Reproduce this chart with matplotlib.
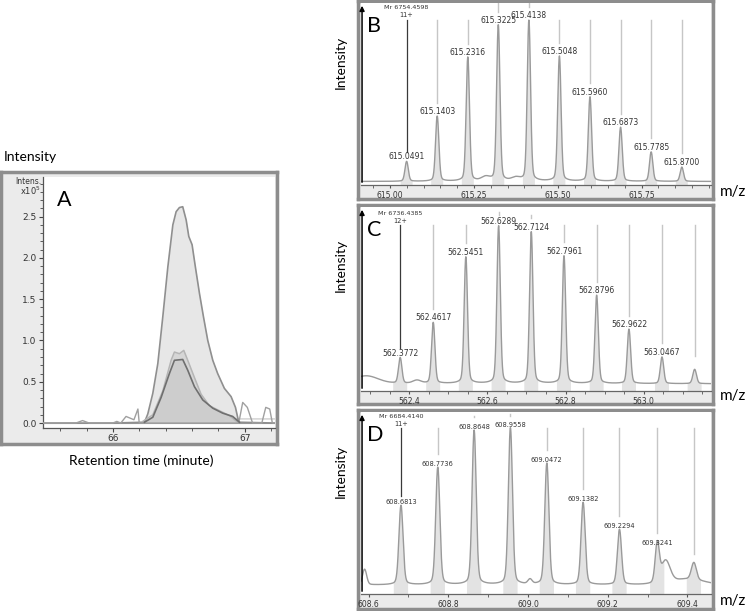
import numpy as np
import matplotlib.pyplot as plt
from matplotlib.ticker import MultipleLocator, FormatStrFormatter
from matplotlib.transforms import blended_transform_factory

# ---- Panel A: extracted ion chromatograms (x10^5) ----
big_t = [65.47, 66.0, 66.24, 66.265, 66.303, 66.341, 66.379, 66.417, 66.455, 66.48, 66.505, 66.53,
         66.556, 66.576, 66.601, 66.626, 66.657, 66.687, 66.72, 66.758, 66.795, 66.846, 66.897,
         66.93, 66.955, 67.23]
big_i = [0, 0, 0.01, 0.11, 0.36, 0.72, 1.29, 1.89, 2.40, 2.56, 2.61, 2.62, 2.46, 2.26, 2.16, 1.89,
         1.57, 1.29, 1.00, 0.76, 0.60, 0.42, 0.32, 0.19, 0.01, 0]
mid_t = [66.227, 66.303, 66.379, 66.442, 66.467, 66.505, 66.538, 66.568, 66.619, 66.669, 66.732,
         66.808, 66.884, 66.947]
mid_i = [0.02, 0.10, 0.39, 0.76, 0.86, 0.84, 0.88, 0.76, 0.55, 0.35, 0.21, 0.15, 0.09, 0.01]
dark_t = [66.24, 66.303, 66.366, 66.429, 66.467, 66.53, 66.568, 66.619, 66.682, 66.758, 66.833,
          66.909, 66.96]
dark_i = [0.01, 0.07, 0.31, 0.60, 0.76, 0.77, 0.64, 0.44, 0.28, 0.18, 0.12, 0.08, 0.01]
noise_t = [65.47, 65.72, 65.77, 65.82, 66.0, 66.03, 66.06, 66.10, 66.16, 66.19, 66.20, 66.955,
           66.985, 67.02, 67.06, 67.13, 67.16, 67.19, 67.21, 67.23]
noise_i = [0, 0, 0.03, 0, 0, 0.02, 0, 0.08, 0.04, 0.17, 0, 0, 0.25, 0.19, 0, 0, 0.19, 0.17, 0, 0]
tail_t = [66.85, 66.95, 67.23]
tail_i = [0.03, 0.05, 0.05]

# ---- Panel B: 11+ ----
b_mz = [615.0491, 615.1403, 615.2316, 615.3225, 615.4138, 615.5048, 615.5960, 615.6873, 615.7785, 615.8700]
b_int = [12.4, 40.5, 77.2, 97.1, 100.0, 77.8, 52.5, 33.6, 18.3, 8.9]
b_extra_mz = [615.285, 615.375]
b_extra_int = [2.5, 2.0]
b_extra_w = [0.012, 0.012]
b_mr = 'Mr 6754.4598'
b_charge = '11+'

# ---- Panel C: 12+ ----
c_mz = [562.3772, 562.4617, 562.5451, 562.6289, 562.7124, 562.7961, 562.8796, 562.9622, 563.0467]
c_int = [16.3, 38.7, 80.3, 100.0, 96.2, 81.0, 56.0, 34.5, 16.9]
c_extra_mz = [563.1302, 562.29, 562.42]
c_extra_int = [9.1, 5.0, 2.0]
c_extra_w = [0.0045, 0.03, 0.01]
c_mr = 'Mr 6736.4385'
c_charge = '12+'

# ---- Panel D: 11+ ----
d_mz = [608.6813, 608.7736, 608.8648, 608.9558, 609.0472, 609.1382, 609.2294, 609.3241]
d_int = [50.7, 74.9, 98.5, 100.0, 77.5, 52.5, 35.3, 24.6]
d_extra_mz = [609.416, 608.590, 609.005, 609.345, 609.40]
d_extra_int = [11.0, 10.0, 3.0, 14.0, 3.5]
d_extra_w = [0.006, 0.005, 0.005, 0.011, 0.04]
d_mr = 'Mr 6684.4140'
d_charge = '11+'

W, H = 747, 611
fig = plt.figure(figsize=(W / 100, H / 100), dpi=100)
fig.patch.set_facecolor('white')

SMALL = 'DejaVu Sans'
LABEL = 'Lato'


def px_box(x0, y0, x1, y1):
    return [x0 / W, 1 - y1 / H, (x1 - x0) / W, (y1 - y0) / H]


def frame(x0, y0, x1, y1):
    fa = fig.add_axes(px_box(x0, y0, x1, y1))
    fa.set_facecolor('#ebebeb')
    fa.set_xticks([])
    fa.set_yticks([])
    for s in fa.spines.values():
        s.set_color('#8d8d8d')
        s.set_linewidth(2.5)
    return fa


# ---------------- Panel A ----------------
frame(1, 172, 277, 444)
axA = fig.add_axes(px_box(43, 177, 275, 428))
axA.set_facecolor('white')
axA.set_xlim(65.47, 67.23)
axA.set_ylim(-0.06, 2.98)
axA.fill_between(big_t, 0, big_i, color='#e7e7e7', lw=0, zorder=1)
axA.plot(big_t, big_i, color='#8f8f8f', lw=1.2, zorder=3)
axA.fill_between(mid_t, 0, mid_i, color='#d6d6d6', lw=0, zorder=2)
axA.fill_between(dark_t, 0, dark_i, color='#cdcdcd', lw=0, zorder=2)
axA.plot(mid_t, mid_i, color='#b5b5b5', lw=1.1, zorder=3)
axA.plot(dark_t, dark_i, color='#6f6f6f', lw=1.2, zorder=4)
axA.plot(noise_t, noise_i, color='#a0a0a0', lw=1.0, zorder=3)
axA.plot(tail_t, tail_i, color='#cfcfcf', lw=1.0, zorder=2)
axA.axhline(0, color='#9a9a9a', lw=0.8, zorder=2)
axA.yaxis.set_major_locator(MultipleLocator(0.5))
axA.yaxis.set_minor_locator(MultipleLocator(0.1))
axA.yaxis.set_major_formatter(FormatStrFormatter('%.1f'))
axA.xaxis.set_major_locator(MultipleLocator(1))
axA.xaxis.set_minor_locator(MultipleLocator(0.2))
axA.tick_params(which='both', direction='out', color='#444', labelsize=6.5,
                labelcolor='#333', pad=1.5)
axA.tick_params(which='major', length=3)
axA.tick_params(which='minor', length=2)
for lab in axA.get_xticklabels() + axA.get_yticklabels():
    lab.set_family(SMALL)
for side in ['top', 'right']:
    axA.spines[side].set_visible(False)
for side in ['left', 'bottom']:
    axA.spines[side].set_color('#555')
    axA.spines[side].set_linewidth(0.9)
axA.text(0.06, 0.95, 'A', transform=axA.transAxes, fontsize=15.5, family=LABEL,
         ha='left', va='top')
fig.text(41 / W, 1 - 181 / H, 'Intens.', fontsize=5.5, family=SMALL, color='#333',
         ha='right', va='center')
fig.text(41 / W, 1 - 191 / H, r'x10$^5$', fontsize=6, family=SMALL, color='#333',
         ha='right', va='center')
fig.text(4 / W, 1 - 157 / H, 'Intensity', fontsize=10, family=LABEL, ha='left', va='center')
fig.text(141 / W, 1 - 461 / H, 'Retention time (minute)', fontsize=10, family=LABEL,
         ha='center', va='center')


# ---------------- Spectra ----------------
def spectrum(fbox, abox, xlim, ylim, major, minor, fmt, mz, inten, ex_mz, ex_int, ex_w, sigma,
             mr, charge, letter, stick_top, big_top, big_idx, mr_y, label_size, n_stick_extra):
    frame(*fbox)
    ax = fig.add_axes(px_box(*abox))
    ax.set_facecolor('white')
    ax.set_xlim(*xlim)
    ax.set_ylim(*ylim)
    ax_h = abox[3] - abox[1]
    dpp = (ylim[1] - ylim[0]) / ax_h

    x = np.linspace(xlim[0], xlim[1], 4000)
    y = np.full_like(x, 0.8)
    widths = [sigma] * len(mz) + list(ex_w)
    for c, h, w in zip(list(mz) + list(ex_mz), list(inten) + list(ex_int), widths):
        y += h * (0.9 * np.exp(-0.5 * ((x - c) / w) ** 2) + 0.1 / (1 + ((x - c) / (2.2 * w)) ** 2))
    all_peaks = list(mz) + list(ex_mz[:n_stick_extra])
    all_int = list(inten) + list(ex_int[:n_stick_extra])
    near = np.zeros_like(x, dtype=bool)
    for c in all_peaks:
        near |= np.abs(x - c) < 0.018
    ax.fill_between(x, ylim[0], y, where=near, color='#e3e3e3', lw=0, zorder=1)
    ax.plot(x, y, color='#9a9a9a', lw=1.0, zorder=3)

    tr = blended_transform_factory(ax.transData, ax.transAxes)
    # theoretical isotope sticks
    for i, (c, h) in enumerate(zip(all_peaks, all_int)):
        top = (ylim[1] - ylim[0]) * (big_top if i in big_idx else stick_top) + ylim[0]
        low = h + 15 * dpp
        if i == 0:
            ax.plot([c, c], [low - 4 * dpp, top], color='#3a3a3a', lw=0.9, zorder=4)
        else:
            ax.plot([c, c], [low, top], color='#c6c6c6', lw=1.0, zorder=2)
    for c, h in zip(mz, inten):
        ax.annotate(f'{c:.4f}', (c, h), xytext=(0, 1.2), textcoords='offset points',
                    ha='center', va='bottom', fontsize=label_size, family=SMALL,
                    color='#333', zorder=5)
    ax.text(mz[0], mr_y[0], mr, transform=tr, ha='center', va='center', fontsize=4.6,
            family=SMALL, color='#333')
    ax.text(mz[0], mr_y[1], charge, transform=tr, ha='center', va='center', fontsize=4.8,
            family=SMALL, color='#333')

    ax.xaxis.set_major_locator(MultipleLocator(major))
    ax.xaxis.set_minor_locator(MultipleLocator(minor))
    ax.xaxis.set_major_formatter(FormatStrFormatter(fmt))
    ax.set_yticks([])
    ax.tick_params(axis='x', which='both', direction='out', color='#555', labelsize=5.5,
                   labelcolor='#333', pad=1.5)
    ax.tick_params(axis='x', which='major', length=2.5)
    ax.tick_params(axis='x', which='minor', length=2)
    for lab in ax.get_xticklabels():
        lab.set_family(SMALL)
    for side in ['top', 'right']:
        ax.spines[side].set_visible(False)
    ax.spines['bottom'].set_color('#666')
    ax.spines['bottom'].set_linewidth(0.9)
    ax.spines['left'].set_visible(False)
    ax.annotate('', xy=(0.003, 1.0), xytext=(0.003, 0.0), xycoords='axes fraction',
                arrowprops=dict(arrowstyle='-|>', color='black', lw=1.1, mutation_scale=7))
    ax.text(0.018, 0.93, letter, transform=ax.transAxes, fontsize=15.5, family=LABEL,
            ha='left', va='top')
    return ax


spectrum((358, 1, 713, 199), (361, 3, 711, 185), (614.913, 615.957), (-1.4, 111.8),
         0.25, 0.05, '%.2f', b_mz, b_int, b_extra_mz, b_extra_int, b_extra_w, 0.0048,
         b_mr, b_charge, 'B', 0.907, 1.0, [3, 4], (0.976, 0.934), 5.5, 0)
spectrum((358, 205, 713, 404), (361, 207, 711, 391), (562.277, 563.172), (-3.8, 112.9),
         0.2, 0.05, '%.1f', c_mz, c_int, c_extra_mz, c_extra_int, c_extra_w, 0.0042,
         c_mr, c_charge, 'C', 0.902, 0.957, [3, 4], (0.962, 0.926), 5.5, 1)
spectrum((358, 410, 713, 609), (361, 412, 711, 594), (608.581, 609.459), (-4.9, 111.1),
         0.2, 0.1, '%.1f', d_mz, d_int, d_extra_mz, d_extra_int, d_extra_w, 0.0050,
         d_mr, d_charge, 'D', 0.910, 0.98, [2, 3], (0.978, 0.934), 4.8, 1)

for yc in [62, 265, 471]:
    fig.text(341 / W, 1 - yc / H, 'Intensity', fontsize=10, family=LABEL, rotation=90,
             ha='center', va='center')
for yc in [192, 396, 601]:
    fig.text(733 / W, 1 - yc / H, 'm/z', fontsize=11, family=LABEL, ha='center', va='center')

fig.savefig('out.png', dpi=100)
